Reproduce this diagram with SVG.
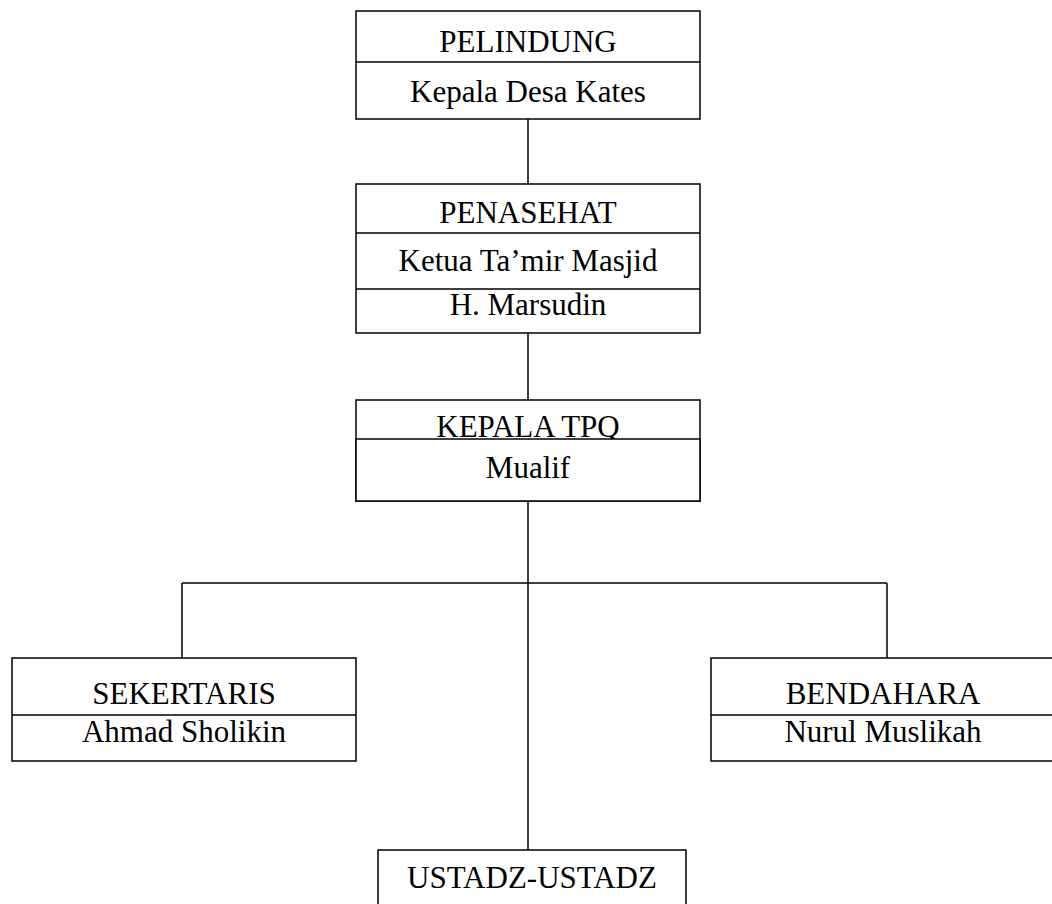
<svg xmlns="http://www.w3.org/2000/svg" width="1052" height="904" viewBox="0 0 1052 904">
<style>
.box{fill:#fff;stroke:#000;stroke-width:1.5}
.ln{stroke:#000;stroke-width:1.5;fill:none}
.t{font-family:"Liberation Serif","Times New Roman",serif;font-size:31px;fill:#000;text-anchor:middle}
</style>
<rect width="1052" height="904" fill="#fff"/>
<g id="connectors">
<line class="ln" x1="528" y1="119" x2="528" y2="184"/>
<line class="ln" x1="528" y1="333" x2="528" y2="400"/>
<line class="ln" x1="528" y1="501" x2="528" y2="850"/>
<line class="ln" x1="182" y1="583" x2="887" y2="583"/>
<line class="ln" x1="182" y1="583" x2="182" y2="658"/>
<line class="ln" x1="887" y1="583" x2="887" y2="658"/>
</g>
<g id="pelindung">
<rect class="box" x="356" y="11" width="344" height="108"/>
<line class="ln" x1="356" y1="62" x2="700" y2="62"/>
<text class="t" x="528" y="52">PELINDUNG</text>
<text class="t" x="528" y="102">Kepala Desa Kates</text>
</g>
<g id="penasehat">
<rect class="box" x="356" y="184" width="344" height="149"/>
<line class="ln" x1="356" y1="233" x2="700" y2="233"/>
<line class="ln" x1="356" y1="289" x2="700" y2="289"/>
<text class="t" x="528" y="223">PENASEHAT</text>
<text class="t" x="528" y="271">Ketua Ta’mir Masjid</text>
<text class="t" x="528" y="315">H. Marsudin</text>
</g>
<g id="kepala">
<rect class="box" x="356" y="400" width="344" height="101"/>
<text class="t" x="528" y="437">KEPALA TPQ</text>
<rect class="box" x="356" y="439" width="344" height="62"/>
<text class="t" x="528" y="478">Mualif</text>
</g>
<g id="sekertaris">
<rect class="box" x="12" y="658" width="344" height="103"/>
<line class="ln" x1="12" y1="715" x2="356" y2="715"/>
<text class="t" x="184" y="704">SEKERTARIS</text>
<text class="t" x="184" y="742">Ahmad Sholikin</text>
</g>
<g id="bendahara">
<rect class="box" x="711" y="658" width="344" height="103"/>
<line class="ln" x1="711" y1="715" x2="1055" y2="715"/>
<text class="t" x="883" y="704">BENDAHARA</text>
<text class="t" x="883" y="742">Nurul Muslikah</text>
</g>
<g id="ustadz">
<rect class="box" x="378" y="850" width="308" height="70"/>
<text class="t" x="532" y="888">USTADZ-USTADZ</text>
</g>
</svg>
